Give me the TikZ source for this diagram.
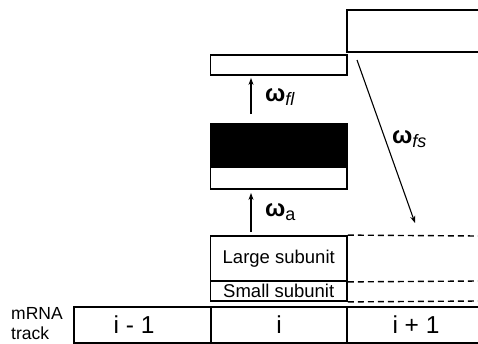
\documentclass[tikz,border=0pt]{standalone}
\usepackage{fontspec}
\setmainfont{Liberation Sans}
\usetikzlibrary{arrows.meta,calc}
\tikzset{
  box/.style={draw,line width=1.8pt,inner sep=0pt,minimum width=136.5pt},
  cell/.style={draw,line width=1.3pt,inner sep=0pt,minimum height=36pt},
  num/.style={inner sep=0pt,font=\fontsize{24.5}{24.5}\selectfont},
  dashln/.style={line width=1.4pt,dash pattern=on 6pt off 4pt},
  arr/.style={line width=1.1pt,-{Stealth[length=7pt,width=5pt]}},
  lbl/.style={inner sep=0pt,font=\fontsize{18.5}{20}\selectfont},
  om/.style={inner sep=0pt,font=\fontsize{24}{24}\selectfont\bfseries}
}
\newcommand{\subtxt}[1]{\raisebox{-4pt}{\fontsize{18}{18}\selectfont\mdseries #1}}
\begin{document}
\begin{tikzpicture}[x=1pt,y=-1pt]
\useasboundingbox (0,0) rectangle (478,343);
% top right box
\coordinate (tr1) at (347,10);
\coordinate (tr2) at (479,10);
\coordinate (tr3) at (479,52);
\coordinate (tr4) at (347,52);
\draw[line width=1.8pt] (tr2) -- (tr1) -- (tr4) -- (tr3);
% top left small box
\node[box,minimum height=20pt] (fl) at (278.75,65) {};
% black and white boxes
\node[box,fill=black,minimum height=43pt] (blk) at (278.75,145.5) {};
\node[box,minimum height=22pt] (wht) at (278.75,178) {};
% subunits
\node[box,minimum height=45pt,lbl] (large) at (278.75,258.5) {Large subunit};
\node[box,minimum height=20pt,lbl] (small) at (278.75,291) {Small subunit};
% dashed continuation
\coordinate (d1) at (478,236);
\coordinate (d2) at (478,281);
\coordinate (d3) at (478,301);
\draw[dashln] (large.north east) -- (d1);
\draw[dashln] (large.south east) -- (d2);
\draw[dashln] (small.south east) -- (d3);
% mRNA track
\node[cell,minimum width=137pt] (c1) at (142.5,325) {};
\node[cell,minimum width=136pt] (c2) at (279,325) {};
\node[cell,minimum width=133pt] (c3) at (413.5,325) {};
\node[num] (t1) at (134,325) {i - 1};
\node[num] (t2) at (279,325) {i};
\node[num] (t3) at (416,325) {i + 1};
\node[lbl,align=left,anchor=west,font=\fontsize{17.5}{20}\selectfont] (mrna) at (11,324) {mRNA\\track};
% arrows
\coordinate (ax) at (251,0);
\draw[arr,shorten <=9pt,shorten >=2pt] (blk.north -| ax) -- (fl.south -| ax);
\draw[arr,shorten <=3pt,shorten >=3pt] (large.north -| ax) -- (wht.south -| ax);
\coordinate (fs1) at (357,60);
\coordinate (fs2) at (415,223);
\draw[arr] (fs1) -- (fs2);
% labels
\node[om,anchor=west] (lfl) at (265,97) {ω\subtxt{\itshape fl}};
\node[om,anchor=west] (lfs) at (392,139) {ω\subtxt{\itshape fs}};
\node[om,anchor=west] (la) at (265,212) {ω\subtxt{a}};
\end{tikzpicture}
\end{document}
